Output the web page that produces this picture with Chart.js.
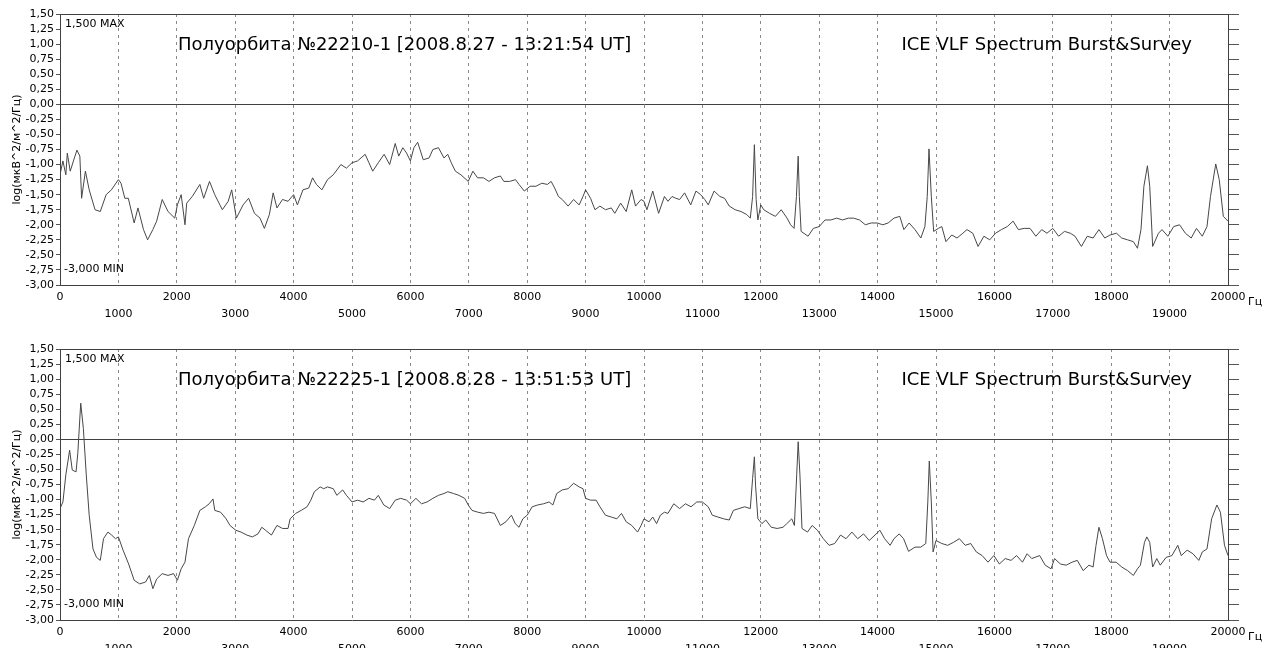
<!DOCTYPE html>
<html>
<head>
<meta charset="utf-8">
<script src="https://cdn.jsdelivr.net/npm/chart.js@4.4.1/dist/chart.umd.min.js"></script>
<style>
body { margin: 0; background: #fff; overflow: hidden; }
canvas { display: block; }
</style>
</head>
<body>
<canvas id="top" width="1276" height="335"></canvas>
<canvas id="bottom" width="1276" height="335"></canvas>
<script>
// spectrum of orbit 22210, Hz / log level
const topFreq = [0,50,100,125,175,230,290,340,370,435,500,600,690,790,880,1000,1045,1110,1170,1270,1335,1430,1500,1590,1655,1750,1850,1965,2010,2075,2140,2170,2265,2395,2460,2560,2650,2780,2880,2940,3020,3135,3230,3330,3425,3500,3585,3650,3715,3810,3905,4000,4065,4160,4260,4325,4390,4485,4580,4680,4810,4905,5000,5095,5225,5290,5355,5450,5550,5645,5740,5800,5870,5935,6000,6060,6125,6220,6320,6385,6480,6575,6640,6700,6770,6865,6990,7070,7150,7250,7345,7440,7540,7600,7700,7800,7860,7950,8050,8150,8250,8345,8410,8470,8535,8600,8700,8795,8890,8955,9000,9085,9160,9245,9340,9440,9500,9600,9695,9790,9855,9950,10000,10050,10150,10250,10350,10410,10480,10545,10610,10695,10800,10890,10970,11040,11100,11200,11300,11380,11460,11560,11660,11760,11820,11860,11890,11920,11950,12000,12050,12150,12250,12350,12450,12510,12570,12610,12640,12660,12690,12810,12900,13000,13100,13200,13300,13400,13500,13590,13690,13790,13890,13990,14090,14180,14280,14380,14450,14540,14640,14740,14810,14850,14880,14920,14960,15040,15100,15170,15270,15360,15460,15530,15630,15720,15820,15920,16020,16120,16220,16320,16410,16510,16610,16710,16810,16900,17000,17100,17200,17300,17380,17490,17590,17690,17790,17890,17980,18090,18180,18280,18380,18450,18510,18560,18620,18660,18710,18810,18870,18970,19070,19170,19270,19370,19460,19560,19640,19700,19790,19850,19920,20000];
const topLevel = [-1.17,-0.94,-1.17,-0.81,-1.11,-0.94,-0.76,-0.86,-1.56,-1.11,-1.42,-1.75,-1.78,-1.50,-1.42,-1.25,-1.31,-1.56,-1.56,-1.97,-1.72,-2.08,-2.25,-2.08,-1.94,-1.58,-1.78,-1.89,-1.67,-1.50,-2.00,-1.64,-1.53,-1.33,-1.56,-1.28,-1.50,-1.75,-1.61,-1.42,-1.89,-1.67,-1.56,-1.81,-1.89,-2.06,-1.83,-1.47,-1.72,-1.58,-1.61,-1.50,-1.67,-1.42,-1.39,-1.22,-1.33,-1.42,-1.25,-1.17,-1.00,-1.06,-0.97,-0.94,-0.83,-0.97,-1.11,-0.97,-0.83,-1.00,-0.65,-0.86,-0.72,-0.81,-0.94,-0.72,-0.63,-0.92,-0.89,-0.75,-0.72,-0.89,-0.83,-0.97,-1.11,-1.17,-1.28,-1.11,-1.22,-1.22,-1.28,-1.22,-1.19,-1.28,-1.28,-1.25,-1.33,-1.44,-1.36,-1.36,-1.31,-1.33,-1.28,-1.39,-1.53,-1.58,-1.69,-1.58,-1.67,-1.53,-1.42,-1.56,-1.75,-1.69,-1.75,-1.72,-1.81,-1.64,-1.78,-1.42,-1.69,-1.58,-1.61,-1.75,-1.44,-1.81,-1.53,-1.61,-1.53,-1.56,-1.58,-1.47,-1.67,-1.44,-1.50,-1.58,-1.67,-1.44,-1.53,-1.56,-1.69,-1.75,-1.78,-1.83,-1.89,-1.53,-0.67,-1.58,-1.92,-1.67,-1.75,-1.81,-1.86,-1.75,-1.89,-2.00,-2.06,-1.53,-0.86,-1.53,-2.11,-2.19,-2.06,-2.03,-1.92,-1.92,-1.89,-1.92,-1.89,-1.89,-1.92,-2.00,-1.97,-1.97,-2.00,-1.97,-1.89,-1.86,-2.08,-1.97,-2.08,-2.22,-2.03,-1.53,-0.74,-1.53,-2.11,-2.06,-2.03,-2.28,-2.17,-2.22,-2.14,-2.08,-2.14,-2.36,-2.19,-2.25,-2.14,-2.08,-2.03,-1.94,-2.08,-2.06,-2.06,-2.19,-2.08,-2.14,-2.06,-2.19,-2.11,-2.14,-2.19,-2.36,-2.19,-2.22,-2.08,-2.22,-2.17,-2.14,-2.22,-2.25,-2.28,-2.39,-2.08,-1.36,-1.02,-1.36,-2.36,-2.14,-2.08,-2.19,-2.03,-2.00,-2.14,-2.22,-2.06,-2.19,-2.03,-1.53,-0.99,-1.25,-1.86,-1.94];

// spectrum of orbit 22225
const bottomFreq = [0,50,100,165,210,275,305,355,400,450,500,565,625,690,745,820,885,950,1000,1080,1175,1270,1365,1465,1530,1590,1655,1750,1850,1945,2010,2075,2140,2200,2300,2395,2490,2555,2620,2650,2750,2845,2910,3010,3100,3200,3295,3390,3455,3520,3620,3715,3810,3905,3940,4035,4130,4230,4295,4355,4455,4515,4580,4680,4740,4840,4905,5000,5095,5190,5290,5385,5450,5545,5645,5740,5835,5935,6000,6095,6190,6285,6385,6480,6575,6640,6740,6830,6930,6990,7055,7155,7250,7345,7440,7540,7635,7730,7795,7860,7925,8000,8085,8180,8280,8375,8440,8505,8600,8700,8795,8890,8955,9000,9085,9180,9245,9340,9440,9535,9615,9695,9790,9890,9950,10000,10085,10150,10215,10280,10350,10410,10510,10610,10710,10805,10905,11000,11100,11170,11265,11365,11460,11530,11625,11725,11820,11860,11890,11910,11950,12020,12085,12180,12280,12380,12445,12530,12575,12615,12640,12670,12705,12800,12880,12970,13070,13170,13265,13365,13460,13560,13660,13760,13855,13955,14040,14120,14215,14280,14370,14445,14530,14640,14740,14825,14860,14885,14920,14950,15000,15100,15200,15300,15400,15500,15595,15690,15790,15890,15990,16085,16185,16285,16380,16480,16560,16640,16775,16870,16970,17030,17130,17230,17330,17420,17520,17620,17690,17740,17790,17850,17920,17980,18085,18180,18280,18380,18450,18500,18570,18610,18660,18710,18780,18840,18940,19040,19140,19200,19300,19400,19500,19560,19640,19720,19810,19870,19940,20000];
const bottomLevel = [-1.15,-1.04,-0.59,-0.18,-0.51,-0.54,-0.23,0.60,0.18,-0.59,-1.26,-1.82,-1.96,-2.01,-1.65,-1.54,-1.59,-1.65,-1.62,-1.84,-2.07,-2.34,-2.40,-2.37,-2.26,-2.48,-2.32,-2.23,-2.26,-2.23,-2.34,-2.15,-2.04,-1.65,-1.43,-1.18,-1.12,-1.07,-0.99,-1.18,-1.21,-1.32,-1.43,-1.51,-1.54,-1.59,-1.62,-1.57,-1.46,-1.51,-1.59,-1.43,-1.48,-1.48,-1.32,-1.23,-1.18,-1.12,-1.01,-0.87,-0.79,-0.82,-0.79,-0.82,-0.93,-0.84,-0.93,-1.04,-1.01,-1.04,-0.98,-1.01,-0.93,-1.09,-1.15,-1.01,-0.98,-1.01,-1.07,-0.98,-1.07,-1.04,-0.98,-0.93,-0.90,-0.87,-0.90,-0.93,-0.98,-1.09,-1.18,-1.21,-1.23,-1.21,-1.23,-1.43,-1.37,-1.26,-1.40,-1.46,-1.32,-1.26,-1.12,-1.09,-1.07,-1.04,-1.09,-0.90,-0.84,-0.82,-0.73,-0.79,-0.82,-0.98,-1.01,-1.01,-1.12,-1.26,-1.29,-1.32,-1.23,-1.37,-1.43,-1.54,-1.43,-1.32,-1.37,-1.29,-1.40,-1.26,-1.21,-1.23,-1.07,-1.15,-1.07,-1.12,-1.04,-1.04,-1.12,-1.26,-1.29,-1.32,-1.34,-1.18,-1.15,-1.12,-1.15,-0.65,-0.29,-0.76,-1.32,-1.40,-1.34,-1.46,-1.48,-1.46,-1.40,-1.32,-1.43,-0.59,-0.04,-0.59,-1.48,-1.54,-1.43,-1.51,-1.65,-1.76,-1.73,-1.59,-1.65,-1.54,-1.65,-1.57,-1.68,-1.59,-1.51,-1.65,-1.76,-1.65,-1.57,-1.65,-1.86,-1.79,-1.79,-1.73,-1.04,-0.36,-1.04,-1.87,-1.68,-1.73,-1.76,-1.71,-1.65,-1.76,-1.73,-1.87,-1.93,-2.04,-1.93,-2.07,-1.98,-2.01,-1.93,-2.04,-1.90,-1.98,-1.93,-2.09,-2.15,-1.98,-2.07,-2.09,-2.04,-2.01,-2.18,-2.09,-2.12,-1.76,-1.46,-1.65,-1.93,-2.04,-2.04,-2.12,-2.18,-2.26,-2.15,-2.09,-1.71,-1.62,-1.71,-2.12,-1.98,-2.09,-1.96,-1.93,-1.76,-1.93,-1.84,-1.90,-2.01,-1.87,-1.82,-1.32,-1.09,-1.21,-1.76,-1.93];

const topTitle = 'Полуорбита №22210-1 [2008.8.27 - 13:21:54 UT]';
const bottomTitle = 'Полуорбита №22225-1 [2008.8.28 - 13:51:53 UT]';
const sourceName = 'ICE VLF Spectrum Burst&Survey';
const yLabel = 'log(мкВ^2/м^2/Гц)';
const xUnit = 'Гц';
const maxNote = '1,500 MAX';
const minNote = '-3,000 MIN';
const yMin = -3, yMax = 1.5, yStep = 0.25;
const fMin = 0, fMax = 20000, fStep = 1000;

const face = 'Tahoma, "DejaVu Sans", sans-serif';
const axisColor = '#404040';

// texts written inside the plot box
const notes = {
  id: 'notes',
  afterDatasetsDraw(chart, args, opts) {
    const a = chart.chartArea;
    const ctx = chart.ctx;
    ctx.save();
    ctx.fillStyle = '#000';
    ctx.textBaseline = 'middle';
    ctx.font = '18px ' + face;
    ctx.textAlign = 'left';
    ctx.fillText(opts.title, a.left + 118, a.top + 31);
    ctx.textAlign = 'right';
    ctx.fillText(sourceName, a.left + 1132, a.top + 31);
    ctx.font = '11px ' + face;
    ctx.textAlign = 'left';
    ctx.fillText(maxNote, a.left + 5, a.top + 10);
    ctx.fillText(minNote, a.left + 4, a.bottom - 16);
    ctx.fillText(xUnit, a.right + 20, a.bottom + 17);
    ctx.restore();
  }
};

function yTick(v) {
  return v.toFixed(2).replace('.', ',');
}

function makeChart(id, freq, level, title) {
  return new Chart(document.getElementById(id), {
    type: 'line',
    data: {
      datasets: [{
        data: freq.map((f, i) => ({x: f, y: level[i]})),
        borderColor: '#474747',
        borderWidth: 1,
        pointRadius: 0,
        tension: 0,
        fill: false
      }]
    },
    options: {
      responsive: false,
      animation: false,
      devicePixelRatio: 1,
      layout: { padding: { top: 14, bottom: 0, left: 0, right: 0 } },
      plugins: {
        legend: { display: false },
        tooltip: { enabled: false },
        notes: { title: title }
      },
      scales: {
        x: {
          type: 'linear', position: 'bottom', min: fMin, max: fMax,
          afterFit: s => { s.height = 50; },
          border: { display: true, color: axisColor, dash: [3, 4] },
          grid: {
            color: c => (c.tick && c.tick.value > fMin && c.tick.value < fMax) ? '#8a8a8a' : 'rgba(0,0,0,0)',
            drawTicks: false
          },
          ticks: {
            stepSize: fStep, autoSkip: false, maxRotation: 0, minRotation: 0,
            padding: 4, color: '#000',
            font: { family: face, size: 11, lineHeight: 1.5 },
            callback: v => (v % 2000 === 0) ? String(v) : ['', String(v)]
          }
        },
        xt: {
          type: 'linear', position: 'top', min: fMin, max: fMax,
          afterFit: s => { s.height = 0; },
          border: { display: true, color: axisColor },
          grid: { display: false },
          ticks: { display: false }
        },
        y: {
          type: 'linear', position: 'left', min: yMin, max: yMax,
          afterFit: s => { s.width = 60; },
          border: { display: true, color: axisColor },
          grid: {
            color: c => (c.tick && c.tick.value === 0) ? axisColor : 'rgba(0,0,0,0)',
            tickColor: '#555', tickLength: 4
          },
          ticks: {
            stepSize: yStep, autoSkip: false, padding: 2, color: '#000',
            font: { family: face, size: 11 },
            callback: yTick
          },
          title: {
            display: true, text: yLabel, color: '#000',
            font: { family: face, size: 11 },
            padding: { top: 11, bottom: 0 }
          }
        },
        yr: {
          type: 'linear', position: 'right', min: yMin, max: yMax,
          afterFit: s => { s.width = 48; },
          border: { display: true, color: axisColor },
          grid: { drawOnChartArea: false, tickColor: '#555', tickLength: 11 },
          ticks: { stepSize: yStep, autoSkip: false, padding: 0, callback: () => '' }
        }
      }
    },
    plugins: [notes]
  });
}

makeChart('top', topFreq, topLevel, topTitle);
makeChart('bottom', bottomFreq, bottomLevel, bottomTitle);
</script>
</body>
</html>
